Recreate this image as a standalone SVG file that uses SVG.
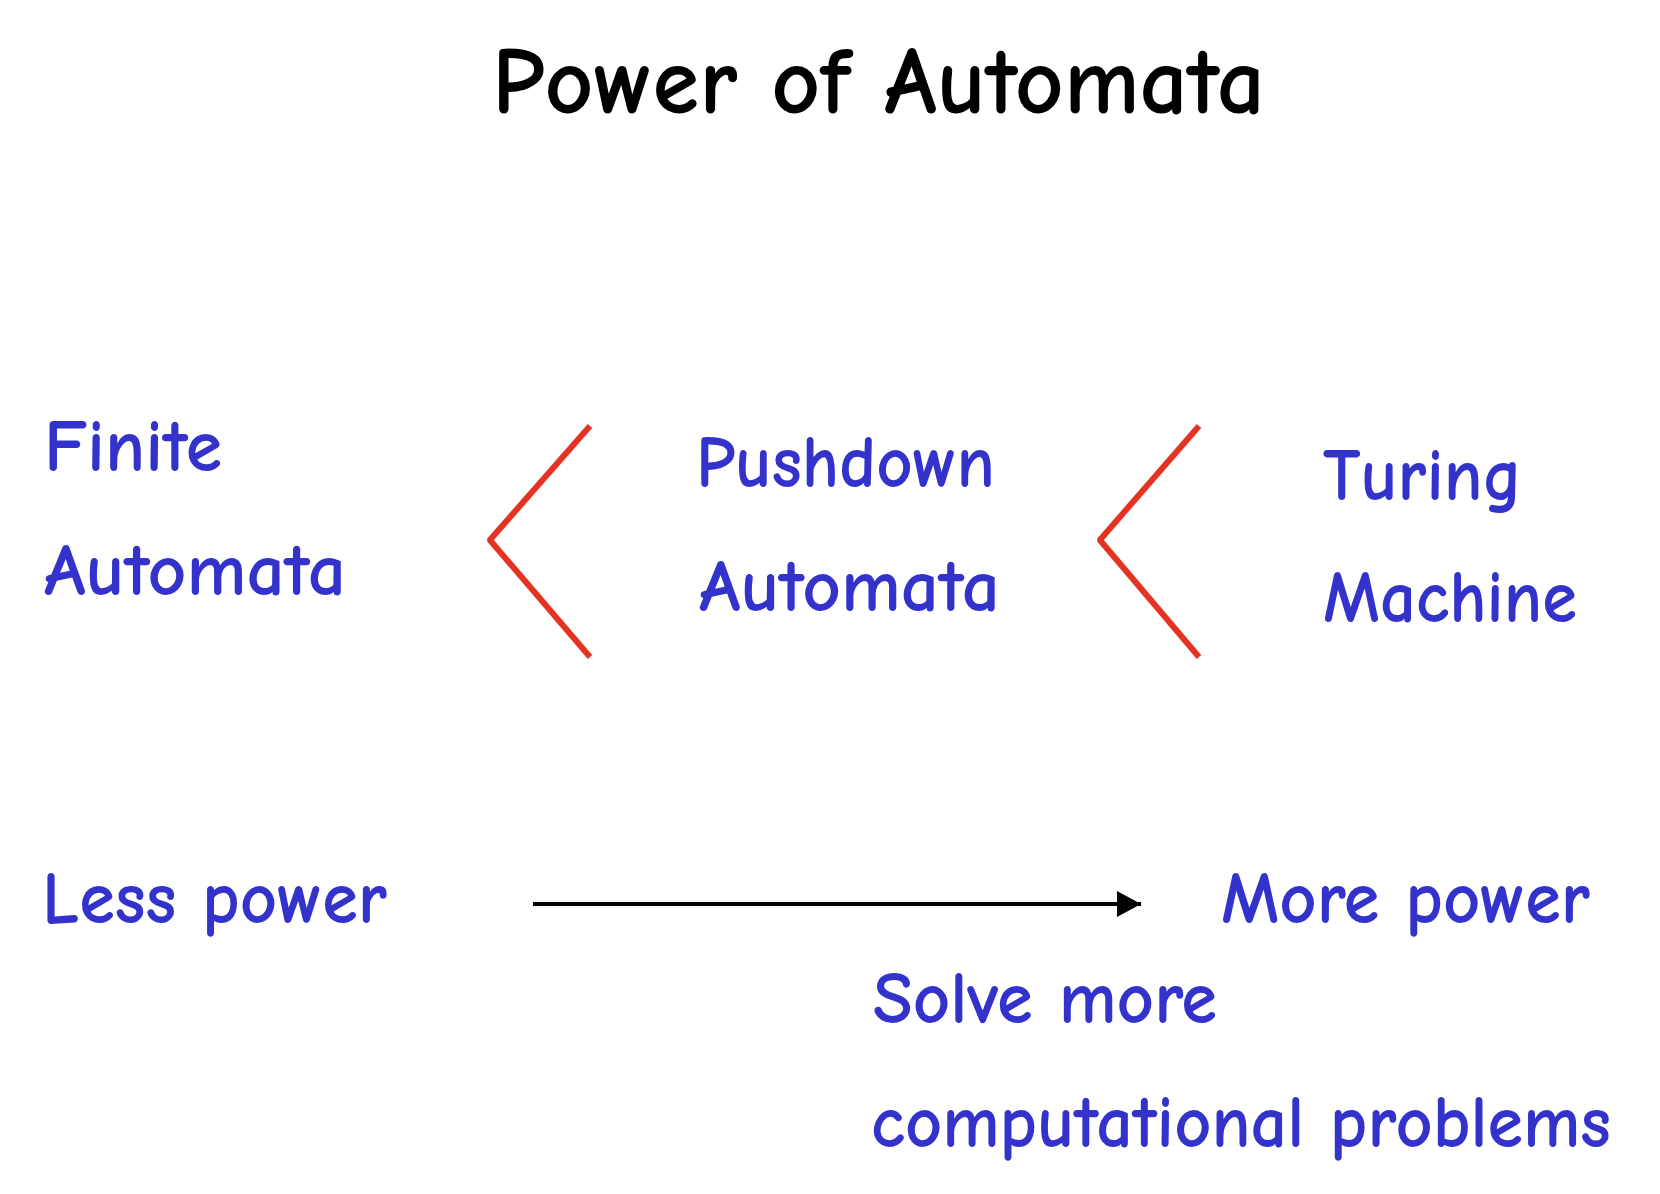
<svg xmlns="http://www.w3.org/2000/svg" width="1660" height="1194" viewBox="0 0 1660 1194">
  <style>
    text { font-family: "Comic Sans MS", "Comic Neue", "Noto Sans", sans-serif; font-weight: bold; }
    .title { font-size: 96px; fill: #000000; }
    .label { font-size: 74px; fill: #3333CC; }
    .chev { stroke: #E53323; stroke-width: 6; fill: none; stroke-linecap: butt; }
    .axis { stroke: #000000; stroke-width: 4; fill: none; }
  </style>
  <defs>
    <marker id="arrowhead" markerUnits="userSpaceOnUse" markerWidth="24" markerHeight="26" refX="24" refY="13" orient="auto">
      <path d="M0,0 L24,13 L0,26 Z" fill="#000000"/>
    </marker>
  </defs>
  <rect width="1660" height="1194" fill="#ffffff"/>

  <text class="title" x="492" y="113" textLength="773" lengthAdjust="spacingAndGlyphs">Power of Automata</text>

  <g id="finite-automata">
    <text class="label" x="44" y="471" textLength="178" lengthAdjust="spacingAndGlyphs">Finite</text>
    <text class="label" x="44" y="595" textLength="302" lengthAdjust="spacingAndGlyphs">Automata</text>
  </g>

  <g id="pushdown-automata">
    <text class="label" x="696" y="487" textLength="299" lengthAdjust="spacingAndGlyphs">Pushdown</text>
    <text class="label" x="699" y="611" textLength="301" lengthAdjust="spacingAndGlyphs">Automata</text>
  </g>

  <g id="turing-machine">
    <text class="label" x="1323" y="500" textLength="199" lengthAdjust="spacingAndGlyphs">Turing</text>
    <text class="label" x="1323" y="622" textLength="254" lengthAdjust="spacingAndGlyphs">Machine</text>
  </g>

  <!-- "less than" signs between the automata classes -->
  <g id="less-than-1">
    <line class="chev" x1="590" y1="426" x2="489" y2="541"/>
    <line class="chev" x1="489" y1="539" x2="590" y2="657"/>
  </g>
  <g id="less-than-2">
    <line class="chev" x1="1199" y1="426" x2="1099" y2="541"/>
    <line class="chev" x1="1099" y1="539" x2="1199" y2="657"/>
  </g>

  <g id="less-power">
    <text class="label" x="42" y="923" textLength="345" lengthAdjust="spacingAndGlyphs">Less power</text>
  </g>
  <g id="more-power">
    <text class="label" x="1221" y="923" textLength="369" lengthAdjust="spacingAndGlyphs">More power</text>
  </g>
  <g id="solve-more">
    <text class="label" x="873" y="1023" textLength="344" lengthAdjust="spacingAndGlyphs">Solve more</text>
    <text class="label" x="871" y="1147" textLength="740" lengthAdjust="spacingAndGlyphs">computational problems</text>
  </g>

  <g id="connectors">
    <line class="axis" x1="533" y1="904" x2="1141" y2="904" marker-end="url(#arrowhead)"/>
  </g>
</svg>
